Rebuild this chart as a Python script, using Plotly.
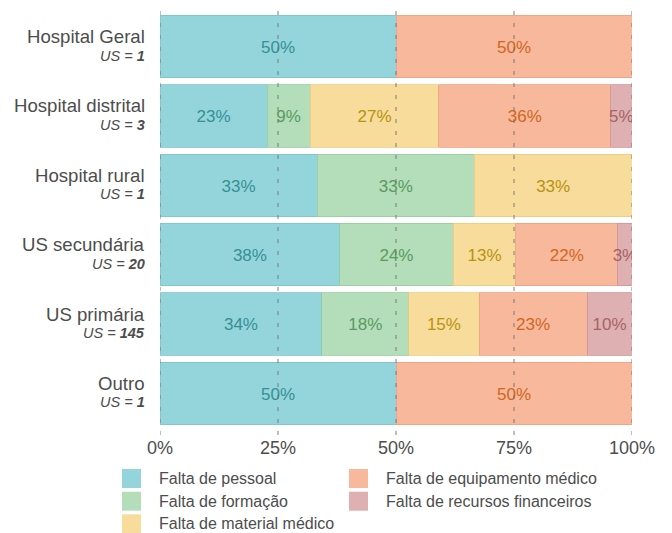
import numpy as np
import plotly.graph_objects as go

# Facility types (top to bottom) and number of facilities per type
categories = ["Hospital Geral", "Hospital distrital", "Hospital rural",
              "US secundária", "US primária", "Outro"]
facility_counts = [1, 3, 1, 20, 145, 1]

# Share of reported problems (%) per facility type
series_names = ["Falta de pessoal", "Falta de formação", "Falta de material médico",
                "Falta de equipamento médico", "Falta de recursos financeiros"]
falta_pessoal = [50.0, 22.7, 33.3, 38.1, 34.3, 50.0]
falta_formacao = [0.0, 9.1, 33.3, 24.0, 18.4, 0.0]
falta_material = [0.0, 27.3, 33.4, 13.3, 14.9, 0.0]
falta_equipamento = [50.0, 36.4, 0.0, 21.6, 22.9, 50.0]
falta_recursos = [0.0, 4.5, 0.0, 3.0, 9.5, 0.0]

x_ticks = [0, 25, 50, 75, 100]
x_tick_labels = ["0%", "25%", "50%", "75%", "100%"]

series_values = [falta_pessoal, falta_formacao, falta_material,
                 falta_equipamento, falta_recursos]
fill_colors = ["#94D5DB", "#B3DEB9", "#F7DC9C", "#F8B89C", "#DFB0B1"]
edge_colors = ["#7CC3C9", "#96CC9E", "#EBCB80", "#EDA180", "#CF9596"]
text_colors = ["#378F95", "#5A9A62", "#B8930E", "#D0671E", "#A66464"]

FONT = "Liberation Sans, Arial, sans-serif"
GREY_TEXT = "#4D4D4D"

W, H = 672, 533
ML, MR, MT, MB = 160, 40, 5, 98
pw, ph = W - ML - MR, H - MT - MB

fig = go.Figure()

data = np.array(series_values, dtype=float)
right_edges = np.cumsum(data, axis=0)
left_edges = right_edges - data
midpoints = (left_edges + right_edges) / 2

# Stacked horizontal bars
for name, vals, fill, edge in zip(series_names, series_values, fill_colors, edge_colors):
    fig.add_trace(go.Bar(
        x=vals, y=categories, orientation="h", name=name,
        marker=dict(color=fill, line=dict(color=edge, width=0.8)),
        showlegend=False, hoverinfo="skip",
    ))

# Percentage labels centred in each segment (clipped at the panel edge);
# they sit on an overlaid category axis nudged a couple of pixels down
for i, (vals, tcol) in enumerate(zip(series_values, text_colors)):
    xs, ys, txt = [], [], []
    for j, v in enumerate(vals):
        if v > 0:
            xs.append(midpoints[i, j])
            ys.append(categories[j])
            txt.append(f"{int(v + 0.5)}%")
    fig.add_trace(go.Scatter(
        x=xs, y=ys, yaxis="y2", mode="text", text=txt,
        textfont=dict(family=FONT, size=17, color=tcol),
        textposition="middle center", cliponaxis=True,
        showlegend=False, hoverinfo="skip",
    ))

# Dashed reference lines drawn over the bars
shapes = []
for v in x_ticks:
    shapes.append(dict(
        type="line", xref="x", yref="paper", x0=v, x1=v, y0=0, y1=1,
        layer="above",
        line=dict(color="rgba(110,110,110,0.45)", width=2, dash="4px,8px"),
    ))

annotations = []
# Two-line category labels: name and facility count
for cat, n in zip(categories, facility_counts):
    annotations.append(dict(
        x=0, xref="paper", y=cat, yref="y", xanchor="right", yanchor="middle",
        xshift=-13, yshift=10, text=cat, showarrow=False,
        font=dict(family=FONT, size=18.6, color=GREY_TEXT),
    ))
    annotations.append(dict(
        x=0, xref="paper", y=cat, yref="y", xanchor="right", yanchor="middle",
        xshift=-13, yshift=-9, text=f"<i>US = <b>{n}</b></i>", showarrow=False,
        font=dict(family=FONT, size=14.5, color=GREY_TEXT),
    ))


def px_x(px):
    return (px - ML) / pw


def px_y(py):
    return (H - MB - py) / ph


# Legend in two columns below the panel
legend_cols = [(122, [0, 1, 2]), (349, [3, 4])]
row_centres = [478.5, 501.2, 523.8]
sw = 19
for col_x, idxs in legend_cols:
    for r, k in enumerate(idxs):
        cy = row_centres[r]
        shapes.append(dict(
            type="rect", xref="paper", yref="paper",
            x0=px_x(col_x), x1=px_x(col_x + sw),
            y0=px_y(cy + sw / 2), y1=px_y(cy - sw / 2),
            fillcolor=fill_colors[k], line=dict(width=0), layer="above",
        ))
        annotations.append(dict(
            x=px_x(col_x + 35), xref="paper", y=px_y(cy), yref="paper",
            xanchor="left", yanchor="middle", text=series_names[k],
            showarrow=False, font=dict(family=FONT, size=16, color=GREY_TEXT),
        ))

y_range = [5.6, -0.6]
nudge = 2.0 / (ph / (y_range[0] - y_range[1]))  # 2 px in category units

fig.update_layout(
    width=W, height=H,
    margin=dict(l=ML, r=MR, t=MT, b=MB),
    barmode="stack", bargap=0.1,
    plot_bgcolor="white", paper_bgcolor="white",
    font=dict(family=FONT, color=GREY_TEXT),
    shapes=shapes, annotations=annotations,
    showlegend=False,
    xaxis=dict(
        range=[0, 100], tickvals=x_ticks, ticktext=x_tick_labels,
        showgrid=False, zeroline=False, showline=False, ticks="",
        tickfont=dict(family=FONT, size=18, color=GREY_TEXT),
        fixedrange=True,
    ),
    yaxis=dict(
        type="category", categoryorder="array", categoryarray=categories,
        range=y_range, showticklabels=False, showgrid=False,
        zeroline=False, showline=False, ticks="", fixedrange=True,
    ),
    yaxis2=dict(
        type="category", categoryorder="array", categoryarray=categories,
        overlaying="y", range=[y_range[0] - nudge, y_range[1] - nudge],
        visible=False, fixedrange=True,
    ),
)

fig.write_html("out.html")
